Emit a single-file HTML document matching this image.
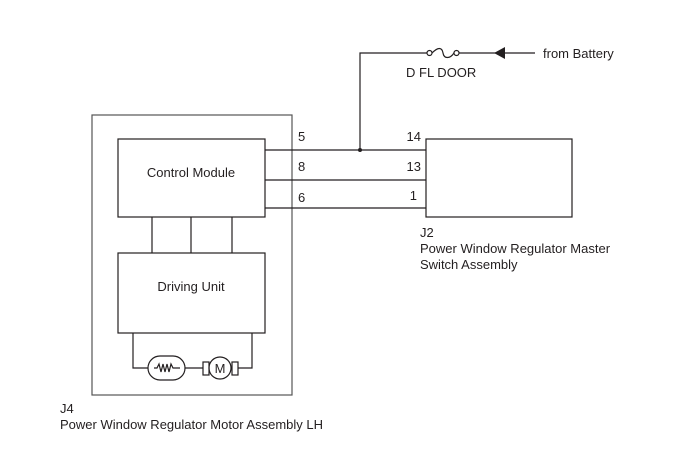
<!DOCTYPE html>
<html><head><meta charset="utf-8"><style>
html,body{margin:0;padding:0;background:#fff;}
text{font-family:"Liberation Sans",Arial,sans-serif;font-size:13px;fill:#231f20;}
</style></head><body>
<svg width="688" height="463" viewBox="0 0 688 463" xmlns="http://www.w3.org/2000/svg">
<g fill="none" stroke="#231f20" stroke-width="1.2">
<rect x="92" y="115" width="200" height="280" stroke="#555"/>
<rect x="118" y="139" width="147" height="78"/>
<rect x="118" y="253" width="147" height="80"/>
<line x1="152" y1="217" x2="152" y2="253"/>
<line x1="191" y1="217" x2="191" y2="253"/>
<line x1="232" y1="217" x2="232" y2="253"/>
<polyline points="133,333 133,368 148,368"/>
<rect x="148" y="356" width="37" height="24" rx="12"/>
<polyline points="154,368 157,368 159,364 161,372 163,364 165,372 167,364 169,372 171,364 173,368 180,368"/>
<line x1="185" y1="368" x2="203" y2="368"/>
<rect x="203" y="362" width="6" height="13"/>
<rect x="232" y="362" width="6" height="13"/>
<circle cx="220" cy="368" r="11"/>
<polyline points="238,368 252,368 252,333"/>
<line x1="265" y1="150" x2="426" y2="150"/>
<line x1="265" y1="180" x2="426" y2="180"/>
<line x1="265" y1="208" x2="426" y2="208"/>
<rect x="426" y="139" width="146" height="78"/>
<polyline points="360,150 360,53 427,53"/>
<circle cx="429.5" cy="53" r="2.5"/>
<circle cx="456.5" cy="53" r="2.5"/>
<path d="M432,53 C438,47 442,47 443,53 C444,59 450,59 454,53"/>
<line x1="459" y1="53" x2="535" y2="53"/>
</g>
<circle cx="360" cy="150" r="2" fill="#231f20"/>
<polygon points="494,53 505,47 505,59" fill="#231f20"/>
<text x="543" y="58">from Battery</text>
<text x="406" y="77">D FL DOOR</text>
<text x="298" y="141">5</text>
<text x="298" y="171">8</text>
<text x="298" y="202">6</text>
<text x="421" y="141" text-anchor="end">14</text>
<text x="421" y="171" text-anchor="end">13</text>
<text x="417" y="200" text-anchor="end">1</text>
<text x="191" y="177" text-anchor="middle">Control Module</text>
<text x="191" y="291" text-anchor="middle">Driving Unit</text>
<text x="220" y="373" text-anchor="middle">M</text>
<text x="420" y="237">J2</text>
<text x="420" y="253">Power Window Regulator Master</text>
<text x="420" y="269">Switch Assembly</text>
<text x="60" y="413">J4</text>
<text x="60" y="429">Power Window Regulator Motor Assembly LH</text>
</svg>
</body></html>
